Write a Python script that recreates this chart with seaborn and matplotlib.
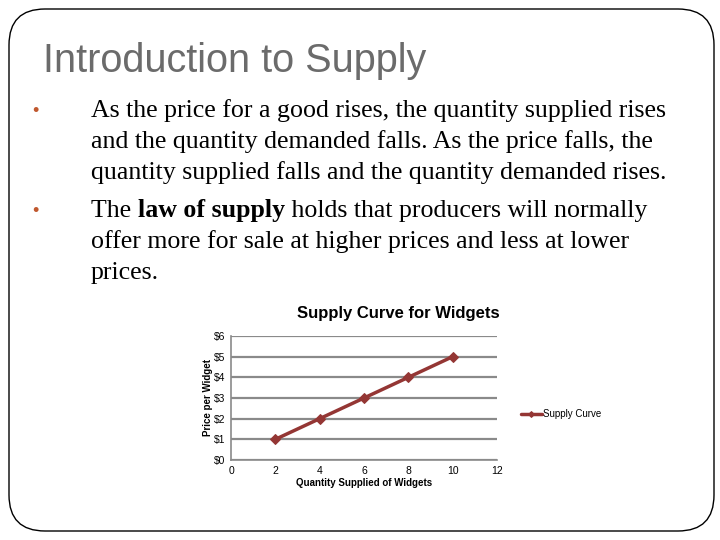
import matplotlib
matplotlib.use("Agg")
import matplotlib.pyplot as plt
import seaborn as sns
import pandas as pd
from matplotlib.patches import FancyBboxPatch
from matplotlib.text import Annotation

# ---- data ----
quantity = [2, 4, 6, 8, 10]
price = [1, 2, 3, 4, 5]
series_name = "Supply Curve"
x_ticks = [0, 2, 4, 6, 8, 10, 12]
y_ticks = [0, 1, 2, 3, 4, 5, 6]
y_tick_labels = ["$0", "$1", "$2", "$3", "$4", "$5", "$6"]

sns.set_theme(style="white")
plt.rcParams['font.family'] = ['Liberation Sans', 'DejaVu Sans']

W, H = 720, 540
fig = plt.figure(figsize=(7.2, 5.4), dpi=100)
fig.patch.set_facecolor("white")

def fx(px):
    return px / W

def fy(py):
    return 1 - py / H

# slide border
border = FancyBboxPatch((fx(9), fy(531)), fx(705), 522 / H,
                        boxstyle="round,pad=0,rounding_size=0.05",
                        transform=fig.transFigure, fill=False,
                        edgecolor="black", linewidth=1.0,
                        mutation_aspect=W / H)
fig.add_artist(border)

# title
fig.text(fx(43), fy(61), "Introduction to Supply", fontsize=28.5,
         color="#6b6b6b", ha="left", va="center",
         family=['Liberation Sans', 'DejaVu Sans'])

# bullets
serif = ['Liberation Serif', 'DejaVu Serif']
bcol = "#c0582e"
fs = 18.6
lines1 = ["As the price for a good rises, the quantity supplied rises",
          "and the quantity demanded falls. As the price falls, the",
          "quantity supplied falls and the quantity demanded rises."]
ys1 = [111, 142, 173]
for t, yy in zip(lines1, ys1):
    fig.text(fx(91), fy(yy), t, fontsize=fs, family=serif, ha="left",
             va="center", color="black")
fig.text(fx(35), fy(112), "•", fontsize=13, color=bcol, ha="center", va="center")
fig.text(fx(35), fy(211), "•", fontsize=13, color=bcol, ha="center", va="center")

t1 = fig.text(fx(91), fy(211), "The ", fontsize=fs, family=serif,
              ha="left", va="center", color="black")
t2 = Annotation("law of supply", xy=(1, 0), xycoords=t1, fontsize=fs,
                family=serif, fontweight="bold", ha="left", va="bottom",
                color="black", annotation_clip=False)
fig.add_artist(t2)
t3 = Annotation(" holds that producers will normally", xy=(1, 0),
                xycoords=t2, fontsize=fs, family=serif, ha="left",
                va="bottom", color="black", annotation_clip=False)
fig.add_artist(t3)
fig.text(fx(91), fy(242), "offer more for sale at higher prices and less at lower",
         fontsize=fs, family=serif, ha="left", va="center", color="black")
fig.text(fx(91), fy(273), "prices.", fontsize=fs, family=serif, ha="left",
         va="center", color="black")

# chart
ax = fig.add_axes([fx(231), fy(460), fx(497) - fx(231), (460 - 336) / H])
df = pd.DataFrame({"Quantity": quantity, "Price": price, "series": series_name})
line_col = "#943634"
sns.lineplot(data=df, x="Quantity", y="Price", ax=ax, color=line_col,
             linewidth=2.5, marker="D", markersize=5, markeredgecolor=line_col,
             label=series_name, sort=False)
ax.set_xlim(0, 12)
ax.set_ylim(0, 6)
ax.set_xticks(x_ticks)
ax.set_xticklabels([str(v) for v in x_ticks])
ax.set_yticks(y_ticks)
ax.set_yticklabels(y_tick_labels)
ax.yaxis.grid(True, color="#8a8a8a", linewidth=1.6)
ax.xaxis.grid(False)
ax.set_axisbelow(True)
for s in ["top", "right"]:
    ax.spines[s].set_visible(False)
for s in ["left", "bottom"]:
    ax.spines[s].set_color("#8a8a8a")
    ax.spines[s].set_linewidth(1.2)
ax.tick_params(axis="both", labelsize=7.5, colors="black", length=0, pad=4)
ax.set_xlabel("Quantity Supplied of Widgets", fontsize=7, fontweight="bold",
              labelpad=2, color="black")
ax.set_ylabel("Price per Widget", fontsize=7, fontweight="bold", labelpad=1,
              color="black")
ax.set_title("Supply Curve for Widgets", fontsize=12, fontweight="heavy",
             pad=13, x=0.63, color="black")
leg = ax.legend(loc="center left", bbox_to_anchor=(fx(512), fy(414)),
                bbox_transform=fig.transFigure, frameon=False, fontsize=7,
                handlelength=2.2, handletextpad=0.1, markerscale=0.6)
for txt in leg.get_texts():
    txt.set_color("black")

fig.savefig("out.png", dpi=100, facecolor="white")
